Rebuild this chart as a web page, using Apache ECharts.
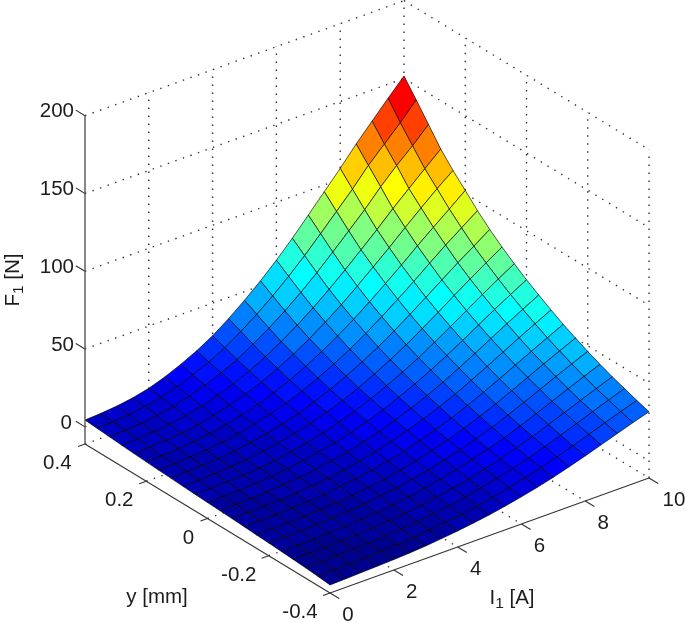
<!DOCTYPE html>
<html><head><meta charset="utf-8">
<script src="https://cdn.jsdelivr.net/npm/echarts@6/dist/echarts.min.js"></script>
<style>html,body{margin:0;padding:0;background:#fff}#c{width:685px;height:623px}</style>
</head><body><div id="c"></div>
<script>
const iTicks=[0,2,4,6,8,10], yTicks=[0.4,0.2,0,-0.2,-0.4], zTicks=[0,50,100,150,200];
const currents=[0,0.5,1,1.5,2,2.5,3,3.5,4,4.5,5,5.5,6,6.5,7,7.5,8,8.5,9,9.5,10];
const positions=[0.4,0.36,0.32,0.28,0.24,0.2,0.16,0.12,0.08,0.04,0,-0.04,-0.08,-0.12,-0.16,-0.2,-0.24,-0.28,-0.32,-0.36,-0.4];
// F1 [N] at each current (row), for each position in `positions`
const f00=[4.4,3.8,3.2,2.6,2.0,1.5,1.0,0.6,0.1,-0.3,-0.7,-1.1,-1.5,-1.9,-2.4,-2.8,-3.3,-3.8,-4.3,-5.0,-5.8];
const f01=[5.0,4.3,3.7,3.0,2.4,1.8,1.3,0.9,0.3,-0.1,-0.5,-1.0,-1.4,-1.8,-2.3,-2.7,-3.2,-3.6,-4.1,-4.8,-5.5];
const f02=[6.0,5.3,4.5,3.8,3.1,2.5,1.9,1.4,0.8,0.3,-0.2,-0.6,-1.0,-1.5,-2.0,-2.4,-2.9,-3.4,-3.8,-4.4,-5.1];
const f03=[7.6,6.7,5.8,4.9,4.1,3.4,2.7,2.1,1.5,0.9,0.4,-0.1,-0.6,-1.1,-1.6,-2.0,-2.5,-3.0,-3.5,-4.1,-4.7];
const f04=[10.0,8.9,7.8,6.7,5.7,4.8,4.0,3.2,2.4,1.8,1.2,0.6,0.0,-0.6,-1.1,-1.6,-2.1,-2.6,-3.1,-3.7,-4.3];
const f05=[13.6,12.1,10.7,9.3,8.0,6.9,5.8,4.9,4.0,3.1,2.4,1.7,1.0,0.3,-0.3,-0.9,-1.5,-2.0,-2.5,-3.1,-3.7];
const f06=[18.0,16.1,14.3,12.5,10.9,9.5,8.2,7.0,5.9,4.9,4.0,3.1,2.3,1.5,0.8,0.1,-0.5,-1.1,-1.7,-2.3,-2.9];
const f07=[23.0,20.7,18.4,16.2,14.3,12.6,11.0,9.5,8.2,7.0,5.9,4.9,3.9,3.0,2.2,1.4,0.7,0.0,-0.6,-1.3,-1.9];
const f08=[29.0,26.1,23.3,20.7,18.4,16.3,14.4,12.6,11.0,9.6,8.2,7.0,5.9,4.8,3.9,3.0,2.1,1.4,0.7,0.0,-0.7];
const f09=[36.3,32.8,29.4,26.1,23.4,20.8,18.5,16.3,14.4,12.7,11.1,9.7,8.3,7.1,5.9,4.9,3.9,3.0,2.2,1.4,0.7];
const f10=[44.4,40.2,36.1,32.2,28.9,25.9,23.1,20.6,18.3,16.2,14.4,12.7,11.1,9.6,8.3,7.1,5.9,4.9,4.0,3.1,2.3];
const f11=[53.2,48.3,43.5,39.0,35.2,31.7,28.5,25.5,22.8,20.5,18.3,16.3,14.5,12.7,11.2,9.8,8.5,7.3,6.3,5.2,4.3];
const f12=[62.8,57.2,51.7,46.5,42.1,38.0,34.3,30.9,27.9,25.1,22.6,20.3,18.2,16.2,14.4,12.8,11.3,9.9,8.7,7.6,6.5];
const f13=[73.2,66.8,60.6,54.7,49.6,45.0,40.8,36.8,33.4,30.2,27.3,24.7,22.3,20.0,18.0,16.1,14.4,12.8,11.5,10.1,8.9];
const f14=[84.4,77.2,70.2,63.5,57.9,52.6,47.8,43.4,39.4,35.8,32.6,29.6,26.8,24.3,22.0,19.8,17.8,16.1,14.5,13.0,11.6];
const f15=[95.7,87.8,80.1,72.7,66.5,60.6,55.3,50.4,46.0,42.0,38.3,35.1,31.9,29.0,26.4,24.0,21.8,19.7,18.0,16.2,14.7];
const f16=[107,98.4,90.0,82.0,75.2,68.8,63.0,57.6,52.8,48.4,44.3,40.7,37.2,34.0,31.1,28.4,25.9,23.7,21.7,19.7,18.0];
const f17=[119,110,101,91.8,84.4,77.4,71.1,65.1,59.9,55.0,50.6,46.6,42.7,39.1,36.0,33.0,30.2,27.7,25.5,23.3,21.4];
const f18=[130,120,111,101,93.3,85.7,79.0,72.5,66.8,61.6,56.8,52.4,48.2,44.3,40.9,37.6,34.6,31.8,29.4,27.0,24.9];
const f19=[141,130,120,110,102,93.7,86.4,79.4,73.5,67.9,62.7,58.0,53.5,49.3,45.6,42.1,38.8,35.8,33.2,30.6,28.3];
const f20=[151.6,141,130,119,110,102,93.8,86.5,80.0,74.0,68.5,63.5,58.7,54.2,50.2,46.4,42.9,39.7,36.9,34.1,31.6];
const F=[f00,f01,f02,f03,f04,f05,f06,f07,f08,f09,f10,f11,f12,f13,f14,f15,f16,f17,f18,f19,f20];
const zFloor=-11, iMax=10, yTop=0.4, zTop=200;
const lo=Math.min(...F.flat()), hi=Math.max(...F.flat());
function P(I,y,z){const u=I/iMax,v=(yTop-y)/(2*yTop);return [85+319*u+245*v,444-115*u+149*v-(z-zFloor)*1.556];}
function jet(t){t=Math.floor(Math.min(t,0.9999)*64);const x=(t+1)/64;
 const c=a=>Math.round(255*Math.max(0,Math.min(1,a)));
 return 'rgb('+c(Math.min(4*x-1.5,-4*x+4.5))+','+c(Math.min(4*x-.5,-4*x+3.5))+','+c(Math.min(4*x+.5,-4*x+2.5))+')';}
const cells=[];for(let i=currents.length-2;i>=0;i--)for(let k=0;k<positions.length-1;k++)cells.push([i,k]);
const dotted=[];
iTicks.slice(1).forEach(I=>dotted.push([I,yTop,zFloor,I,yTop,zTop]));
yTicks.slice(1).forEach(y=>dotted.push([iMax,y,zFloor,iMax,y,zTop]));
zTicks.concat([zFloor]).forEach(z=>{dotted.push([0,yTop,z,iMax,yTop,z]);dotted.push([iMax,yTop,z,iMax,-yTop,z]);});
iTicks.slice(1,-1).forEach(I=>dotted.push([I,yTop,zFloor,I,-yTop,zFloor]));
yTicks.slice(1,-1).forEach(y=>dotted.push([0,y,zFloor,iMax,y,zFloor]));
const solid=[[0,yTop,zFloor,0,-yTop,zFloor],[0,-yTop,zFloor,iMax,-yTop,zFloor]];
iTicks.forEach(I=>solid.push([I,-yTop,zFloor,I,-yTop-.03,zFloor]));
yTicks.forEach(y=>solid.push([0,y,zFloor,-.22,y,zFloor]));
zTicks.forEach(z=>solid.push([0,yTop,z,0,yTop+.03,z]));
const font='20.5px "Liberation Sans"', subFont='15.5px "Liberation Sans"', ink='#1c1c1c';
const tickTexts=[];
iTicks.forEach(I=>{const p=P(I,-yTop,zFloor);tickTexts.push([p[0]+(I===10?25:18),p[1]+22,String(I),'center']);});
const yOff=[-27.7,-27,-19,-30,-30];
yTicks.forEach((y,n)=>{const p=P(0,y,zFloor);tickTexts.push([p[0]+yOff[n],p[1]+19.5,String(y),'center']);});
zTicks.forEach(z=>{const p=P(0,yTop,z);tickTexts.push([z===0?72:74,p[1]-4,String(z),'right']);});
const titles=[[512,598,'{a|I}{b|1}{a| [A]}',0],[157,597,'{a|y [mm]}',0],[13,280,'{a|F}{b|1}{a| [N]}',1]];
const segItem=style=>function(p,api){
  const A=api.coord(P(api.value(0),api.value(1),api.value(2))),B=api.coord(P(api.value(3),api.value(4),api.value(5)));
  return {type:'line',shape:{x1:A[0],y1:A[1],x2:B[0],y2:B[1]},style};};
const base={type:'custom',coordinateSystem:'cartesian2d',silent:true,clip:false,encode:{x:0,y:1}};
const chart=echarts.init(document.getElementById('c'),null,{renderer:'canvas'});
chart.setOption({animation:false,
 grid:{left:0,right:0,top:0,bottom:0},
 xAxis:{type:'value',min:0,max:685,show:false},
 yAxis:{type:'value',min:0,max:623,inverse:true,show:false},
 series:[
 {...base,data:dotted,renderItem:segItem({stroke:'#333',lineWidth:1.4,lineDash:[1.4,6.6]})},
 {...base,data:solid,renderItem:segItem({stroke:'#333',lineWidth:1.1})},
 {...base,data:cells,renderItem(p,api){
   const i=api.value(0),k=api.value(1);
   const q=[[i,k],[i+1,k],[i+1,k+1],[i,k+1]].map(g=>api.coord(P(currents[g[0]],positions[g[1]],F[g[0]][g[1]])));
   return {type:'polygon',shape:{points:q},style:{fill:jet((F[i][k+1]-lo)/(hi-lo)),stroke:'#000',lineWidth:.65}};}},
 {...base,data:[[0,yTop,zFloor,0,yTop,zTop]],renderItem:segItem({stroke:'#555',lineWidth:1.4})},
 {...base,data:tickTexts,renderItem(p,api){
   const t=tickTexts[p.dataIndex],c=api.coord([t[0],t[1]]);
   return {type:'text',x:c[0],y:c[1],style:{text:t[2],fill:ink,font,align:t[3],verticalAlign:'middle'}};}},
 {...base,data:titles,renderItem(p,api){
   const t=titles[p.dataIndex],c=api.coord([t[0],t[1]]);
   return {type:'text',x:c[0],y:c[1],rotation:t[3]?Math.PI/2:0,style:{text:t[2],align:'center',verticalAlign:'middle',
     rich:{a:{font,fill:ink,lineHeight:22},b:{font:subFont,fill:ink,padding:[12,0,0,0],lineHeight:22}}}};}}
 ]});
</script></body></html>
